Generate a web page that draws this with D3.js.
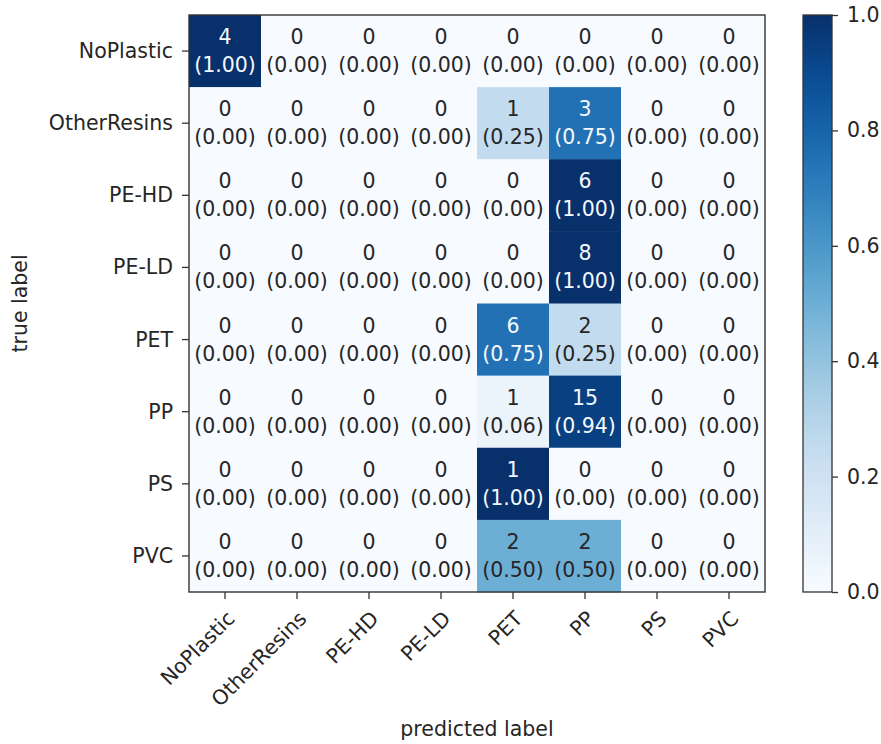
<!DOCTYPE html>
<html>
<head>
<meta charset="utf-8">
<script src="https://cdn.jsdelivr.net/npm/d3@7"></script>
<style>
  body { margin: 0; background: #fff; }
  text { font-family: "DejaVu Sans", sans-serif; fill: #262626; }
</style>
</head>
<body>
<div id="chart"></div>
<script>
// class names (rows = true label, cols = predicted label)
var classes = ["NoPlastic", "OtherResins", "PE-HD", "PE-LD", "PET", "PP", "PS", "PVC"];
var counts = [
    [4, 0, 0, 0, 0, 0, 0, 0],
    [0, 0, 0, 0, 1, 3, 0, 0],
    [0, 0, 0, 0, 0, 6, 0, 0],
    [0, 0, 0, 0, 0, 8, 0, 0],
    [0, 0, 0, 0, 6, 2, 0, 0],
    [0, 0, 0, 0, 1, 15, 0, 0],
    [0, 0, 0, 0, 1, 0, 0, 0],
    [0, 0, 0, 0, 2, 2, 0, 0]
];
var normed = [
    [1.00, 0, 0, 0, 0, 0, 0, 0],
    [0, 0, 0, 0, 0.25, 0.75, 0, 0],
    [0, 0, 0, 0, 0, 1.00, 0, 0],
    [0, 0, 0, 0, 0, 1.00, 0, 0],
    [0, 0, 0, 0, 0.75, 0.25, 0, 0],
    [0, 0, 0, 0, 0.06, 0.94, 0, 0],
    [0, 0, 0, 0, 1.00, 0, 0, 0],
    [0, 0, 0, 0, 0.50, 0.50, 0, 0]
];
var cbarTicks = [0.0, 0.2, 0.4, 0.6, 0.8, 1.0];

var svgWidth = 881, svgHeight = 744;
var plot = {left: 189, top: 15, width: 576, height: 577};
var cbar = {left: 803, width: 29};
var fontSize = 20.5;

var svg = d3.select("#chart").append("svg")
    .attr("width", svgWidth)
    .attr("height", svgHeight);

var x = d3.scaleBand().domain(classes).range([plot.left, plot.left + plot.width]);
var y = d3.scaleBand().domain(classes).range([plot.top, plot.top + plot.height]);
var color = d3.scaleSequential(d3.interpolateBlues).domain([0, 1]);

// flatten matrix into cells
var cells = [];
classes.forEach(function(t, i) {
    classes.forEach(function(p, j) {
        cells.push({t: t, p: p, n: counts[i][j], v: normed[i][j]});
    });
});

var g = svg.append("g");
g.selectAll("rect.cell")
    .data(cells)
    .enter()
    .append("rect")
    .attr("class", "cell")
    .attr("x", function(d) { return x(d.p); })
    .attr("y", function(d) { return y(d.t); })
    .attr("width", x.bandwidth() + 0.5)
    .attr("height", y.bandwidth() + 0.5)
    .attr("fill", function(d) { return color(d.v); });

var labels = g.selectAll("text.cell")
    .data(cells)
    .enter()
    .append("text")
    .attr("class", "cell")
    .attr("text-anchor", "middle")
    .style("font-size", fontSize + "px")
    .style("fill", function(d) { return d.v > 0.5 ? "#f4f8fc" : "#262626"; });
labels.append("tspan")
    .attr("x", function(d) { return x(d.p) + x.bandwidth() / 2; })
    .attr("y", function(d) { return y(d.t) + y.bandwidth() / 2 - 14; })
    .attr("dominant-baseline", "central")
    .text(function(d) { return d.n; });
labels.append("tspan")
    .attr("x", function(d) { return x(d.p) + x.bandwidth() / 2; })
    .attr("y", function(d) { return y(d.t) + y.bandwidth() / 2 + 14; })
    .attr("dominant-baseline", "central")
    .text(function(d) { return "(" + d.v.toFixed(2) + ")"; });

// frame
g.append("rect")
    .attr("x", plot.left)
    .attr("y", plot.top)
    .attr("width", plot.width)
    .attr("height", plot.height)
    .attr("fill", "none")
    .attr("stroke", "#333")
    .attr("stroke-width", 1.4);

// y axis ticks + labels
var yAxis = svg.append("g");
yAxis.selectAll("line")
    .data(classes).enter().append("line")
    .attr("x1", plot.left - 7).attr("x2", plot.left)
    .attr("y1", function(d) { return y(d) + y.bandwidth() / 2; })
    .attr("y2", function(d) { return y(d) + y.bandwidth() / 2; })
    .attr("stroke", "#333").attr("stroke-width", 1.3);
yAxis.selectAll("text")
    .data(classes).enter().append("text")
    .attr("x", plot.left - 16)
    .attr("y", function(d) { return y(d) + y.bandwidth() / 2; })
    .attr("text-anchor", "end")
    .attr("dominant-baseline", "central")
    .style("font-size", fontSize + "px")
    .text(function(d) { return d; });

// x axis ticks + rotated labels
var xAxis = svg.append("g");
var axisY = plot.top + plot.height;
xAxis.selectAll("line")
    .data(classes).enter().append("line")
    .attr("x1", function(d) { return x(d) + x.bandwidth() / 2; })
    .attr("x2", function(d) { return x(d) + x.bandwidth() / 2; })
    .attr("y1", axisY).attr("y2", axisY + 7)
    .attr("stroke", "#333").attr("stroke-width", 1.3);
xAxis.selectAll("text")
    .data(classes).enter().append("text")
    .attr("transform", function(d) {
        return "translate(" + (x(d) + x.bandwidth() / 2) + "," + (axisY + 17) + ") rotate(-45)";
    })
    .attr("text-anchor", "end")
    .attr("dy", "0.75em")
    .style("font-size", fontSize + "px")
    .text(function(d) { return d; });

// axis titles
svg.append("text")
    .attr("transform", "translate(" + 27 + "," + (plot.top + plot.height / 2) + ") rotate(-90)")
    .attr("text-anchor", "middle")
    .style("font-size", fontSize + "px")
    .text("true label");
svg.append("text")
    .attr("x", plot.left + plot.width / 2)
    .attr("y", 736)
    .attr("text-anchor", "middle")
    .style("font-size", fontSize + "px")
    .text("predicted label");

// colorbar
var cy = d3.scaleLinear().domain([0, 1]).range([plot.top + plot.height, plot.top]);
var defs = svg.append("defs");
var grad = defs.append("linearGradient")
    .attr("id", "cbarGrad")
    .attr("x1", "0").attr("y1", "1").attr("x2", "0").attr("y2", "0");
d3.range(0, 1.0001, 0.05).forEach(function(s) {
    grad.append("stop").attr("offset", s).attr("stop-color", color(s));
});
svg.append("rect")
    .attr("x", cbar.left)
    .attr("y", plot.top)
    .attr("width", cbar.width)
    .attr("height", plot.height)
    .attr("fill", "url(#cbarGrad)")
    .attr("stroke", "#333")
    .attr("stroke-width", 1.3);

var cAxis = svg.append("g")
    .attr("transform", "translate(" + (cbar.left + cbar.width) + ",0)")
    .call(d3.axisRight(cy).tickValues(cbarTicks).tickFormat(d3.format(".1f")).tickSize(6).tickPadding(9));
cAxis.select(".domain").remove();
cAxis.selectAll("line").attr("stroke", "#333").attr("stroke-width", 1.3);
cAxis.selectAll("text")
    .style("font-size", fontSize + "px")
    .style("font-family", "DejaVu Sans, sans-serif")
    .attr("fill", "#262626");
</script>
</body>
</html>
